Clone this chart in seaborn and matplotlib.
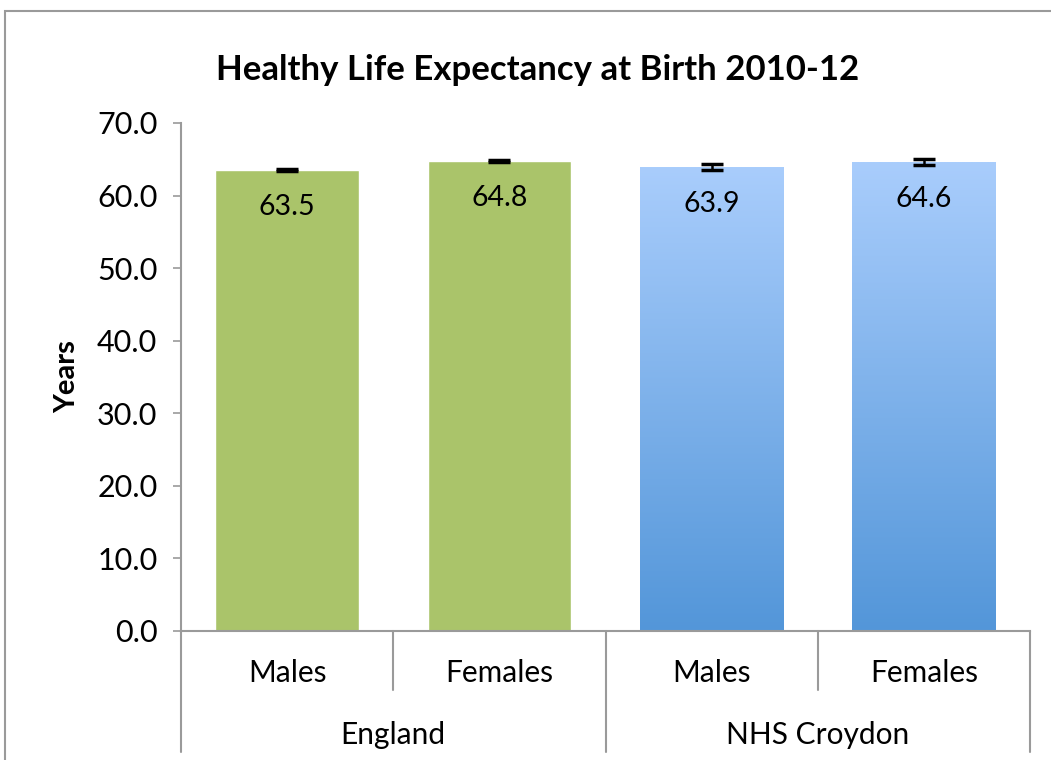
import numpy as np
import pandas as pd
import matplotlib
matplotlib.use("Agg")
import matplotlib.pyplot as plt
import matplotlib.colors as mcolors
from matplotlib.patches import Rectangle
from matplotlib.transforms import blended_transform_factory
import seaborn as sns

# ================================================================
# DATA
# ================================================================
areas = ["England", "England", "NHS Croydon", "NHS Croydon"]
sexes = ["Males", "Females", "Males", "Females"]
hle_years = [63.5, 64.8, 63.9, 64.6]
ci_half = [0.12, 0.12, 0.4, 0.4]
y_ticks = [0, 10, 20, 30, 40, 50, 60, 70]

df = pd.DataFrame({"area": areas, "sex": sexes, "years": hle_years})
df["key"] = df["area"] + " " + df["sex"]

GREEN = "#aac46a"
BLUE_TOP = "#a9cdfc"
BLUE_BOT = "#5396d9"
GRID = "#9a9a9a"

# ================================================================
# PLOT
# ================================================================
sns.set_theme(style="white")
plt.rcParams["font.family"] = ["Lato", "DejaVu Sans"]
plt.rcParams["text.color"] = "black"
plt.rcParams["axes.labelcolor"] = "black"
plt.rcParams["ytick.color"] = "black"

fig = plt.figure(figsize=(10.51, 7.6), dpi=100)
ax = fig.add_axes([181 / 1051, 1 - 631 / 760, (1030 - 181) / 1051, (631 - 123) / 760])

palette = [GREEN if a == "England" else BLUE_TOP for a in areas]
sns.barplot(data=df, x="key", y="years", hue="key", palette=palette,
            errorbar=None, width=0.675, saturation=1, legend=False, ax=ax)

ax.set_xlim(-0.5, 3.5)
ax.set_ylim(0, 70)
ax.set_yticks(y_ticks)
ax.set_yticklabels([f"{t:.1f}" for t in y_ticks], fontsize=22)
ax.set_xticks([])
ax.set_xlabel("")
ax.set_ylabel("Years", fontsize=21, fontweight="bold", labelpad=12)
ax.tick_params(axis="y", direction="out", length=6, width=1.2, color=GRID,
               labelcolor="black", pad=11, left=True)

for side in ["top", "right"]:
    ax.spines[side].set_visible(False)
for side in ["left", "bottom"]:
    ax.spines[side].set_color(GRID)
    ax.spines[side].set_linewidth(1.5)

# gradient fill for Croydon bars
grad = mcolors.LinearSegmentedColormap.from_list("blu", [BLUE_BOT, BLUE_TOP])
for patch, area in zip(ax.patches, areas):
    if area != "England":
        x0 = patch.get_x()
        w = patch.get_width()
        h = patch.get_height()
        img = ax.imshow(np.linspace(0, 1, 256).reshape(-1, 1), cmap=grad, origin="lower",
                        extent=[x0, x0 + w, 0, h], aspect="auto", zorder=patch.get_zorder())
        img.set_clip_path(patch)
ax.set_xlim(-0.5, 3.5)
ax.set_ylim(0, 70)

# error bars and value labels
xs = [p.get_x() + p.get_width() / 2 for p in ax.patches]
ax.errorbar(xs, hle_years, yerr=ci_half, fmt="none", ecolor="black",
            elinewidth=1.8, capsize=8, capthick=2.5, zorder=5)
for x, v in zip(xs, hle_years):
    ax.text(x, v - 5.1, f"{v:.1f}", ha="center", va="center", fontsize=20.5, zorder=6)

# two-level category axis
trans = blended_transform_factory(ax.transData, ax.transAxes)
short_y = -(690 - 631) / 508
long_y = -(752 - 631) / 508
for xb in [0.5, 2.5]:
    ax.plot([xb, xb], [0, short_y], color=GRID, lw=1.5, transform=trans, clip_on=False)
for xb in [-0.5, 1.5, 3.5]:
    ax.plot([xb, xb], [0, long_y], color=GRID, lw=1.5, transform=trans, clip_on=False)
for i, s in enumerate(sexes):
    ax.text(i, -(673 - 631) / 508, s, ha="center", va="center", fontsize=21.5,
            transform=trans)
groups = list(dict.fromkeys(areas))
for g in groups:
    idx = [i for i, a in enumerate(areas) if a == g]
    ax.text(np.mean(idx), -(735 - 631) / 508, g, ha="center", va="center", fontsize=21.5,
            transform=trans)

# title and chart border
fig.text(538 / 1051, 1 - 70 / 760, "Healthy Life Expectancy at Birth 2010-12",
         ha="center", va="center", fontsize=25, fontweight="bold")
fig.patches.append(Rectangle((5 / 1051, -0.1), 1.2, 1 - 11 / 760 + 0.1,
                             transform=fig.transFigure, fill=False,
                             edgecolor=GRID, lw=1.5, zorder=0))

fig.savefig("out.png", dpi=100)
